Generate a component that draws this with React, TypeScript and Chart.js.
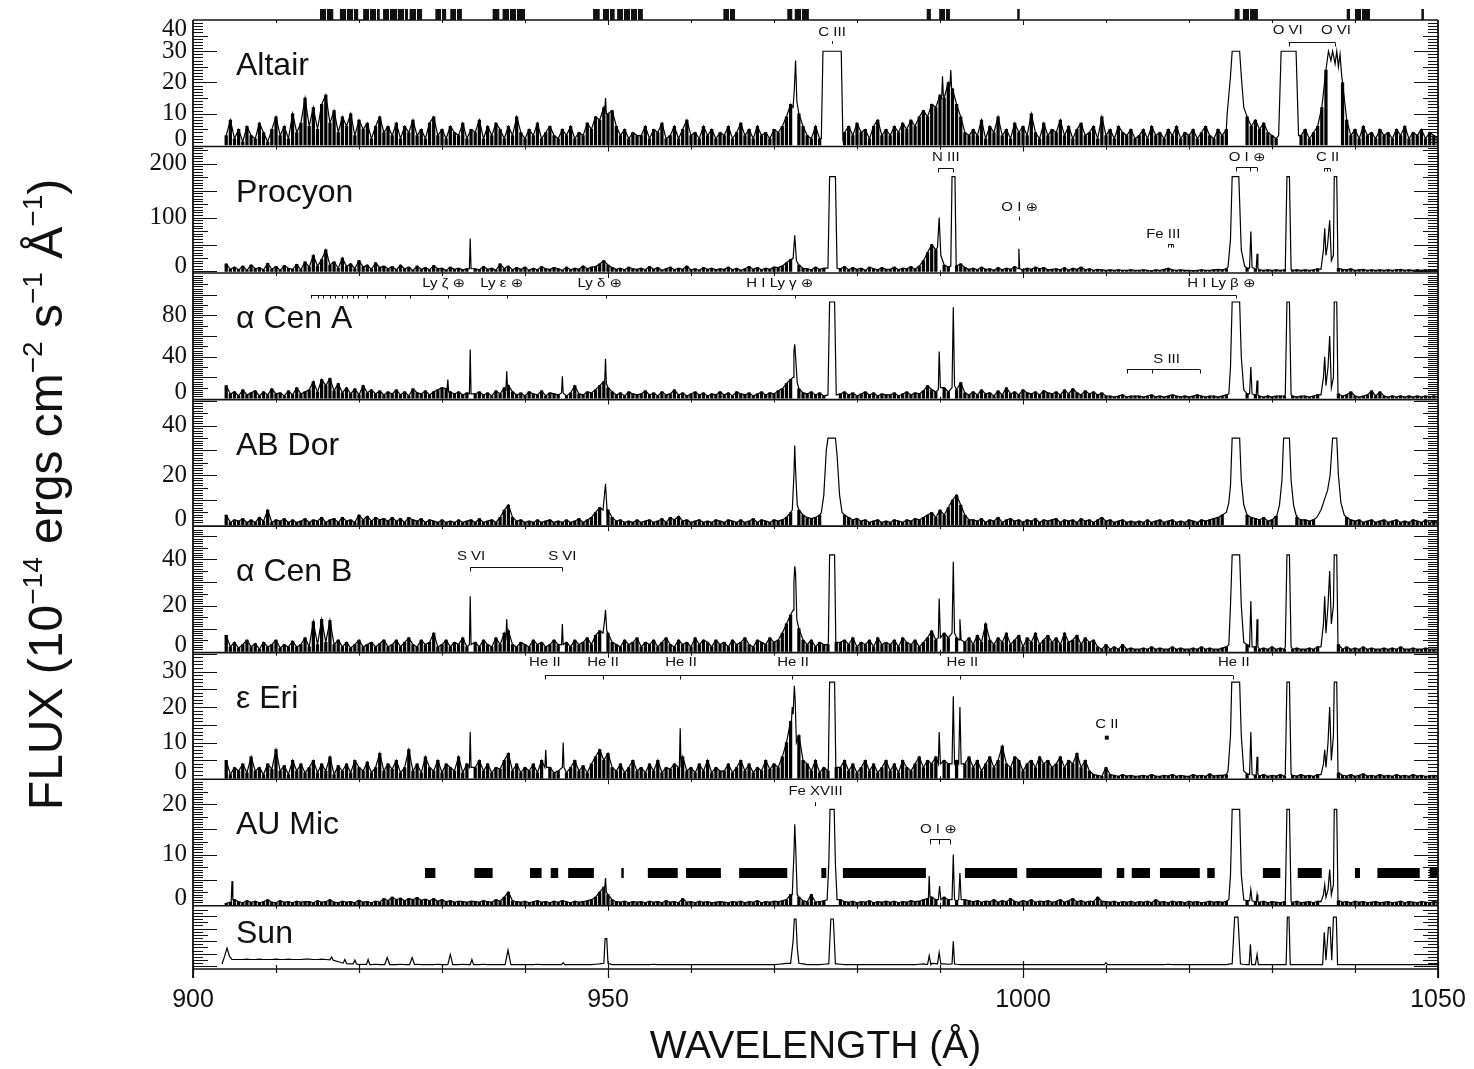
import { useEffect, useRef } from 'react';
import { Chart, registerables } from 'chart.js';

Chart.register(...registerables);

// ---------- wavelength axis ----------
const wavelengthMin = 900;
const wavelengthMax = 1050;
const wavelengthTicks = [900, 950, 1000, 1050];

// Continuum samples: row r starts at gridStart + r*gridRow, samples every gridStep Å.
const gridStart = 904;
const gridRow = 10;
const gridStep = 0.5;

// ---------- Altair ----------
const altairContinuum = [
  [3, 8, 2, 5, 1, 6, 3, 2, 7, 4, 1, 5, 9, 3, 6, 2, 10, 4, 7, 15],
  [6, 12, 5, 13, 16, 7, 11, 4, 9, 6, 10, 3, 8, 5, 7, 2, 6, 9, 4, 6],
  [3, 7, 2, 6, 4, 8, 3, 5, 2, 7, 9, 3, 5, 2, 6, 4, 3, 7, 2, 5],
  [4, 8, 2, 6, 3, 7, 5, 2, 6, 3, 9, 4, 2, 5, 3, 7, 2, 4, 6, 3],
  [2, 5, 3, 6, 2, 4, 3, 7, 5, 9, 8, 12, 10, 11, 6, 3, 5, 2, 4, 3],
  [3, 6, 2, 5, 4, 7, 2, 3, 6, 2, 5, 8, 3, 4, 2, 6, 3, 5, 2, 4],
  [3, 6, 2, 4, 7, 3, 5, 2, 6, 3, 4, 2, 5, 4, 6, 9, 13, 0, 10, 6],
  [3, 2, 6, 2, 0, 0, 0, 0, 0, 4, 6, 3, 7, 4, 5, 2, 6, 8, 3, 5],
  [3, 6, 4, 7, 5, 8, 6, 9, 11, 9, 13, 12, 16, 15, 20, 18, 13, 9, 4, 3],
  [5, 3, 8, 2, 6, 4, 9, 3, 5, 2, 7, 4, 6, 3, 10, 4, 2, 7, 3, 5],
  [4, 8, 3, 6, 2, 5, 7, 3, 4, 6, 2, 9, 3, 5, 2, 6, 4, 3, 5, 2],
  [3, 5, 2, 6, 3, 4, 2, 5, 3, 6, 2, 4, 3, 5, 2, 4, 6, 3, 2, 5],
  [3, 5, 0, 0, 0, 0, 9, 6, 8, 5, 7, 4, 3, 2, 0, 0, 0, 0, 0, 3],
  [5, 2, 4, 6, 12, 24, 0, 0, 0, 20, 8, 3, 5, 2, 6, 3, 4, 2, 5, 3],
  [4, 2, 5, 3, 6, 2, 4, 3, 5, 2, 4, 3, 2],
];
// emission-line profiles as [λ, flux, λ, flux, ...]
const altairLines = [
  [949.6, 10, 949.7, 15, 949.8, 10],
  [972.3, 12, 972.45, 18, 972.6, 27, 972.75, 14],
  [975.7, 2, 975.9, 30, 978.1, 30, 978.3, 2],
  [990.2, 15, 990.3, 22, 990.4, 16],
  [991.2, 19, 991.3, 24, 991.4, 18],
  [1024.6, 10, 1025.0, 22, 1025.2, 30, 1026.1, 30, 1026.3, 22, 1026.6, 12],
  [1030.8, 3, 1031.1, 30, 1032.9, 30, 1033.2, 3],
  [1036.6, 26, 1036.8, 30, 1037.1, 27, 1037.3, 30, 1037.6, 26, 1037.8, 30, 1038.0, 25, 1038.2, 29, 1038.4, 22],
];

// ---------- Procyon ----------
const procyonContinuum = [
  [14, 4, 8, 3, 10, 2, 12, 5, 7, 3, 15, 4, 9, 2, 11, 6, 4, 13, 3, 18],
  [8, 30, 10, 22, 40, 12, 18, 6, 25, 9, 14, 5, 20, 8, 12, 4, 16, 7, 10, 5],
  [9, 3, 12, 5, 8, 2, 10, 4, 7, 3, 11, 5, 6, 2, 8, 4, 6, 3, 5, 4],
  [5, 3, 9, 4, 6, 2, 14, 5, 10, 3, 7, 4, 8, 2, 6, 3, 9, 5, 4, 7],
  [5, 2, 8, 3, 6, 4, 10, 5, 8, 9, 14, 20, 12, 7, 4, 6, 3, 8, 5, 4],
  [6, 3, 9, 4, 7, 2, 5, 8, 3, 6, 4, 10, 3, 5, 2, 7, 4, 6, 3, 5],
  [4, 8, 3, 6, 2, 5, 9, 4, 7, 3, 6, 4, 8, 7, 10, 16, 22, 0, 12, 6],
  [5, 3, 8, 4, 6, 0, 0, 0, 5, 9, 3, 7, 4, 6, 2, 8, 5, 3, 7, 4],
  [4, 8, 3, 6, 5, 9, 4, 10, 20, 35, 50, 40, 0, 12, 8, 0, 10, 14, 7, 4],
  [6, 3, 8, 4, 5, 2, 7, 3, 6, 4, 9, 0, 3, 6, 4, 8, 5, 7, 3, 4],
  [5, 3, 7, 2, 6, 4, 8, 3, 5, 2, 4, 3, 2, 3, 2, 3, 2, 2, 3, 2],
  [2, 3, 2, 1, 3, 2, 4, 6, 3, 2, 3, 2, 2, 1, 2, 3, 2, 2, 3, 4],
  [3, 5, 0, 0, 0, 0, 6, 0, 4, 3, 2, 3, 2, 3, 2, 3, 0, 2, 3, 2],
  [3, 2, 3, 5, 0, 0, 0, 0, 6, 4, 3, 5, 2, 3, 4, 2, 3, 2, 3, 2],
  [3, 2, 3, 4, 2, 3, 2, 3, 2, 3, 2, 3, 2],
];
const procyonLines = [
  [933.3, 5, 933.4, 61, 933.5, 5],
  [972.3, 24, 972.5, 67, 972.7, 20],
  [976.5, 6, 976.7, 176, 977.4, 176, 977.6, 6],
  [989.7, 45, 989.9, 100, 990.1, 30],
  [991.3, 10, 991.45, 176, 991.8, 176, 991.95, 10],
  [999.4, 5, 999.5, 42, 999.6, 5],
  [1024.7, 8, 1025.0, 60, 1025.2, 176, 1026.0, 176, 1026.3, 40, 1026.7, 10],
  [1027.3, 6, 1027.45, 74, 1027.6, 8],
  [1028.1, 5, 1028.2, 33, 1028.3, 5],
  [1031.6, 4, 1031.8, 176, 1032.1, 176, 1032.3, 4],
  [1035.9, 4, 1036.2, 40, 1036.35, 80, 1036.5, 30, 1036.7, 50, 1036.95, 95, 1037.15, 20, 1037.4, 30, 1037.5, 176, 1037.8, 176, 1037.95, 8],
];

// ---------- α Cen A ----------
const alphaCenAContinuum = [
  [12, 4, 6, 2, 8, 3, 5, 7, 2, 6, 3, 9, 4, 5, 2, 7, 3, 10, 4, 6],
  [8, 16, 6, 18, 12, 19, 7, 14, 5, 10, 4, 9, 3, 12, 5, 8, 4, 7, 3, 6],
  [4, 8, 3, 6, 2, 9, 5, 4, 7, 3, 6, 8, 10, 9, 6, 4, 6, 3, 5, 3],
  [4, 6, 3, 5, 2, 7, 4, 10, 12, 6, 3, 5, 2, 6, 4, 3, 7, 2, 5, 4],
  [3, 6, 2, 5, 12, 4, 3, 6, 5, 8, 12, 16, 10, 6, 3, 5, 2, 6, 4, 3],
  [4, 7, 3, 5, 2, 6, 3, 4, 8, 3, 5, 2, 4, 6, 3, 5, 2, 4, 3, 6],
  [3, 5, 2, 6, 4, 3, 5, 2, 4, 6, 3, 5, 4, 7, 9, 14, 18, 0, 9, 5],
  [4, 6, 3, 5, 2, 0, 0, 0, 4, 6, 3, 5, 2, 4, 6, 3, 5, 2, 4, 3],
  [3, 5, 2, 4, 6, 3, 5, 4, 7, 12, 8, 6, 0, 10, 6, 0, 8, 15, 5, 3],
  [6, 3, 8, 4, 5, 2, 7, 3, 10, 4, 6, 3, 8, 5, 4, 6, 3, 7, 5, 4],
  [6, 3, 8, 4, 9, 5, 3, 7, 4, 6, 3, 5, 2, 2, 1, 2, 3, 1, 2, 2],
  [2, 1, 2, 3, 1, 2, 1, 2, 3, 2, 1, 2, 1, 2, 3, 2, 1, 2, 2, 1],
  [2, 3, 0, 0, 0, 0, 4, 0, 3, 2, 1, 2, 1, 2, 2, 2, 0, 2, 1, 2],
  [2, 1, 2, 3, 0, 0, 0, 0, 4, 2, 3, 6, 2, 1, 2, 3, 7, 2, 6, 2],
  [1, 2, 1, 2, 1, 2, 1, 2, 1, 2, 1, 2, 1],
];
const alphaCenALines = [
  [930.6, 8, 930.7, 18, 930.8, 6],
  [933.3, 4, 933.4, 47, 933.5, 4],
  [937.7, 8, 937.8, 26, 937.9, 8],
  [944.4, 5, 944.5, 21, 944.6, 5],
  [949.6, 16, 949.7, 38, 949.8, 14],
  [972.3, 20, 972.4, 45, 972.5, 52, 972.6, 40, 972.8, 15],
  [976.5, 3, 976.7, 93, 977.3, 93, 977.5, 3],
  [989.8, 8, 989.9, 45, 990.05, 10],
  [991.45, 10, 991.6, 88, 991.75, 12],
  [1024.8, 4, 1025.0, 30, 1025.2, 93, 1026.1, 93, 1026.3, 40, 1026.6, 8],
  [1027.3, 4, 1027.45, 30, 1027.6, 4],
  [1028.1, 3, 1028.2, 17, 1028.3, 3],
  [1031.6, 3, 1031.8, 93, 1032.1, 93, 1032.3, 3],
  [1035.9, 3, 1036.2, 20, 1036.35, 40, 1036.5, 12, 1036.75, 30, 1036.95, 60, 1037.15, 10, 1037.4, 20, 1037.5, 93, 1037.8, 93, 1037.95, 5],
];

// ---------- AB Dor ----------
const abDorContinuum = [
  [4, 1, 2, 1.5, 2.5, 1, 2, 1, 3, 1.5, 6, 1, 2, 1.5, 2.5, 1, 2, 1, 1.5, 2.5],
  [1, 2, 1.5, 3, 1, 2, 2.5, 1, 3, 1.5, 2, 1, 4, 2, 3.5, 1.5, 3, 2, 2.5, 1.5],
  [3, 1.5, 2.5, 1, 3, 2, 1.5, 2.5, 1, 2, 1.5, 1, 2, 1, 1.5, 1, 2, 1, 1.5, 2],
  [1, 2.5, 1, 1.5, 2, 1, 3, 6, 8, 3, 1.5, 2, 1, 1.5, 1, 2, 1, 1.5, 2, 1],
  [1.5, 1, 2, 1, 1.5, 2.5, 1, 2, 3, 5, 7, 0, 6, 3, 1.5, 2, 1, 1.5, 1, 2],
  [1, 1.5, 2, 1, 1.5, 2.5, 1, 3, 2, 3.5, 1.5, 2, 1, 1.5, 2, 1, 1.5, 1, 2, 1.5],
  [1, 2, 1.5, 1, 2, 1, 1.5, 2.5, 1, 2, 1.5, 1, 2, 1.5, 2, 3, 5, 0, 6, 4],
  [3, 2.5, 3, 4, 0, 0, 0, 0, 0, 4, 3, 2, 2.5, 1.5, 2, 1, 1.5, 2, 1, 1.5],
  [1, 2, 1.5, 1, 2, 1.5, 2.5, 2, 3, 4, 5, 3, 6, 4, 7, 10, 12, 8, 4, 2],
  [2, 1.5, 2.5, 1, 2, 1.5, 3, 1, 2, 2.5, 1.5, 2, 1, 2, 1.5, 2.5, 1, 2, 1.5, 2],
  [2.5, 1, 2, 1.5, 2, 1, 2.5, 1.5, 2, 1, 2, 3, 1.5, 2, 1, 1.5, 2, 1, 1.5, 1],
  [1.5, 1, 2, 1, 1.5, 2, 1, 1.5, 2, 1, 1.5, 1, 2, 1.5, 1, 2, 1.5, 2, 2.5, 3],
  [4, 0, 0, 0, 0, 0, 4, 3, 2.5, 2, 3, 1.5, 2, 3.5, 0, 0, 0, 0, 3, 2],
  [2, 1.5, 2, 0, 0, 0, 0, 0, 0, 0, 3, 2, 1.5, 2, 1, 1.5, 2, 1, 1.5, 2],
  [1, 1.5, 2, 1, 1.5, 1, 2, 1.5, 1, 2, 1, 1.5, 1],
];
const abDorLines = [
  [949.4, 6, 949.7, 16.6, 949.9, 5],
  [972.2, 6, 972.4, 20, 972.5, 32, 972.6, 22, 972.8, 8],
  [975.7, 5, 976.0, 12, 976.3, 30, 976.5, 35, 977.4, 35, 977.6, 28, 977.9, 12, 978.2, 5],
  [1024.5, 5, 1024.8, 9, 1025.0, 16, 1025.2, 35, 1026.1, 35, 1026.3, 18, 1026.6, 8, 1026.9, 5],
  [1030.6, 4, 1030.9, 8, 1031.2, 18, 1031.4, 35, 1032.1, 35, 1032.3, 18, 1032.6, 8, 1032.9, 4],
  [1035.4, 3, 1035.9, 6, 1036.3, 10, 1036.7, 14, 1037.0, 20, 1037.3, 35, 1037.8, 35, 1038.0, 20, 1038.3, 9, 1038.7, 4],
];

// ---------- α Cen B ----------
const alphaCenBContinuum = [
  [7, 2, 4, 1.5, 3, 5, 2, 3.5, 1, 4, 2, 3, 5, 1.5, 3, 2, 4.5, 2, 3, 6],
  [2, 13, 3, 14, 4, 13.5, 3, 5, 2, 4, 1.5, 3, 5, 2, 3, 4, 2, 3.5, 5, 2],
  [3, 5, 2, 4, 6, 3, 2, 5, 3, 4, 8, 2, 3, 5, 2, 4, 3, 6, 2, 3],
  [4, 2, 5, 3, 2, 6, 3, 8, 9, 3, 2, 4, 3, 2, 5, 3, 4, 2, 3, 5],
  [3, 0, 4, 2, 5, 3, 4, 6, 3, 7, 9, 0, 8, 4, 3, 2, 5, 3, 4, 6],
  [2, 4, 3, 5, 2, 4, 6, 3, 2, 5, 3, 4, 2, 6, 3, 5, 4, 2, 5, 3],
  [4, 2, 5, 3, 4, 6, 3, 2, 5, 4, 3, 6, 4, 5, 8, 12, 16, 0, 10, 5],
  [3, 5, 2, 4, 3, 3, 0, 4, 4, 5, 3, 6, 2, 4, 3, 5, 2, 6, 3, 4],
  [3, 5, 2, 6, 4, 3, 5, 2, 4, 6, 9, 5, 0, 8, 6, 0, 6, 0, 4, 6],
  [3, 7, 4, 12, 5, 3, 6, 4, 8, 3, 5, 7, 2, 6, 4, 8, 3, 5, 7, 4],
  [6, 3, 8, 4, 5, 7, 3, 6, 4, 5, 2, 1, 3, 1, 2, 1, 3, 1, 1.5, 1],
  [1, 1.5, 1, 2, 1, 1.5, 1, 1, 2, 1, 1.5, 1, 1, 1.5, 1, 2, 1, 1.5, 1, 1],
  [1.5, 2, 0, 0, 0, 0, 3, 0, 2, 1, 1.5, 1, 2, 1, 1.5, 1, 0, 1, 1.5, 1],
  [1, 1.5, 1, 2, 0, 0, 0, 0, 3, 1, 2, 1, 1.5, 1, 2, 1, 1.5, 1, 1, 1.5],
  [1, 1.5, 1, 2, 1, 1, 1.5, 1, 1, 1.5, 1, 1, 1],
];
const alphaCenBLines = [
  [933.3, 3, 933.4, 24, 933.5, 3],
  [937.7, 6, 937.8, 14, 937.9, 5],
  [944.4, 3, 944.5, 12, 944.6, 3],
  [949.4, 8, 949.6, 14, 949.7, 18, 949.85, 9],
  [972.3, 18, 972.4, 30, 972.5, 37, 972.6, 34, 972.75, 14],
  [976.55, 4, 976.7, 42, 977.3, 42, 977.45, 4],
  [989.8, 6, 989.9, 23, 990.05, 6],
  [991.45, 8, 991.6, 39, 991.75, 8],
  [992.3, 5, 992.4, 14, 992.55, 5],
  [1024.8, 3, 1025.0, 20, 1025.2, 42, 1026.1, 42, 1026.3, 20, 1026.6, 4],
  [1027.3, 2, 1027.45, 22, 1027.6, 2],
  [1028.1, 2, 1028.2, 14, 1028.3, 2],
  [1031.6, 2, 1031.8, 42, 1032.1, 42, 1032.3, 2],
  [1035.9, 2, 1036.2, 12, 1036.35, 24, 1036.5, 8, 1036.75, 20, 1036.95, 35, 1037.15, 12, 1037.4, 20, 1037.5, 42, 1037.8, 42, 1037.95, 3],
];

// ---------- ε Eri ----------
const epsEriContinuum = [
  [5, 1, 3, 2, 4, 1.5, 6, 2, 3, 1, 4, 2.5, 8, 2, 3.5, 1, 5, 2, 4, 1.5],
  [3, 5, 1.5, 4, 2, 6, 1, 3.5, 2, 4, 1.5, 5, 3, 2, 4.5, 1.5, 3, 7, 2, 4],
  [2.5, 5, 1.5, 3, 8, 2, 4, 1.5, 6, 3, 2, 5, 1.5, 4, 3, 2, 6, 1.5, 4, 2],
  [3, 5, 2, 4, 1.5, 3, 2.5, 5, 7, 2, 4, 1.5, 3, 2, 4, 1.5, 5, 2, 3, 1.5],
  [2, 4, 1.5, 3, 5, 2, 3.5, 1.5, 4, 6, 8, 5, 7, 3, 2, 4, 1.5, 3, 5, 2],
  [3, 1.5, 4, 2, 5, 1.5, 3, 2.5, 4, 3, 6, 2, 3, 1.5, 4, 2, 5, 1.5, 3, 2],
  [2, 4, 1.5, 3, 5, 2, 4, 1.5, 3, 2, 5, 2.5, 4, 3, 6, 10, 16, 0, 12, 5],
  [4, 2, 5, 1.5, 3, 2, 0, 3, 3, 5, 2, 4, 1.5, 3, 5, 2, 4, 1.5, 3, 5],
  [2, 4, 1.5, 5, 3, 2, 4, 6, 3, 5, 4, 6, 0, 5, 4, 0, 5, 0, 4, 6],
  [3, 5, 2, 4, 6, 3, 5, 9, 4, 3, 6, 5, 2, 4, 5, 3, 6, 4, 5, 3],
  [4, 6, 3, 5, 4, 7, 3, 5, 2, 1, 0.8, 0.5, 3, 1, 0.8, 0.5, 1, 0.6, 0.8, 0.5],
  [0.6, 0.8, 0.5, 1, 0.6, 0.5, 0.8, 0.6, 1, 0.5, 0.8, 0.6, 0.5, 1, 0.6, 0.8, 0.5, 1.2, 0.6, 0.8],
  [0.8, 1, 0, 0, 0, 0, 1.2, 0, 0.8, 0.6, 1, 0.5, 0.8, 0.6, 1, 0.5, 0, 0.8, 0.6, 1],
  [0.6, 0.8, 0.5, 1, 0, 0, 0, 0, 1.5, 0.8, 0.6, 1, 0.5, 0.8, 1.2, 0.6, 0.8, 0.5, 1, 0.6],
  [0.8, 0.5, 1, 0.6, 0.8, 0.5, 1, 0.6, 0.8, 0.5, 0.6, 0.8, 0.5],
];
const epsEriLines = [
  [933.3, 3, 933.4, 13, 933.5, 3],
  [942.4, 3, 942.5, 8, 942.6, 3],
  [944.5, 3, 944.6, 10, 944.7, 3],
  [958.6, 3, 958.7, 14, 958.8, 3],
  [972.1, 16, 972.2, 20, 972.3, 18, 972.45, 26, 972.55, 22, 972.7, 10],
  [976.55, 3, 976.7, 27, 977.3, 27, 977.45, 3],
  [989.8, 4, 989.9, 13, 990.05, 4],
  [991.45, 4, 991.6, 23, 991.75, 4],
  [992.25, 4, 992.4, 20, 992.55, 4],
  [1024.7, 2, 1025.0, 12, 1025.15, 27, 1026.1, 27, 1026.3, 12, 1026.6, 2],
  [1027.3, 1, 1027.45, 13, 1027.6, 1],
  [1028.1, 1, 1028.2, 6, 1028.3, 1],
  [1031.6, 1, 1031.8, 27, 1032.1, 27, 1032.3, 1],
  [1035.9, 1, 1036.2, 4, 1036.35, 8, 1036.5, 3, 1036.75, 10, 1036.95, 20, 1037.15, 5, 1037.4, 12, 1037.5, 27, 1037.8, 27, 1037.95, 2],
];

// ---------- AU Mic ----------
const auMicContinuum = [
  [0.3, 0.5, 1, 0.6, 0.4, 0.8, 0.5, 0.7, 0.4, 0.6, 1, 0.5, 0.4, 0.8, 0.5, 0.6, 0.4, 0.7, 0.5, 0.6],
  [0.6, 0.4, 0.8, 0.5, 0.6, 1, 0.5, 0.4, 0.7, 0.5, 0.6, 0.4, 0.9, 0.5, 0.6, 0.4, 0.7, 0.5, 1.2, 0.8],
  [1.5, 1, 1.3, 0.8, 1.2, 1, 1.4, 0.9, 1.1, 0.8, 1.2, 0.7, 1, 0.6, 0.8, 0.5, 0.7, 0.6, 0.5, 0.7],
  [0.6, 0.5, 0.8, 0.6, 0.5, 1, 0.7, 1.5, 2.5, 0.8, 0.6, 0.5, 0.7, 0.4, 0.6, 0.8, 0.5, 0.6, 0.4, 0.7],
  [0.5, 0.8, 0.6, 0.4, 0.7, 0.5, 0.6, 0.8, 1, 1.5, 2.5, 3.5, 2, 1, 0.6, 0.5, 0.7, 0.4, 0.6, 0.5],
  [0.6, 0.4, 0.7, 0.5, 0.6, 0.4, 0.8, 0.5, 0.6, 0.4, 1.2, 0.5, 0.6, 0.4, 0.7, 0.5, 0.6, 0.4, 0.5, 0.6],
  [0.5, 0.4, 0.6, 0.5, 0.7, 0.4, 0.6, 0.5, 0.8, 0.4, 0.6, 0.5, 0.7, 0.6, 0.8, 1, 2, 0, 1.5, 0.8],
  [0.6, 2, 0.5, 0.6, 0.8, 0, 0, 0, 1, 0.6, 0.5, 0.7, 0.4, 0.6, 0.5, 0.8, 0.4, 0.6, 0.5, 0.7],
  [0.5, 0.7, 0.4, 0.6, 0.5, 0.8, 0.6, 0.7, 1, 1.2, 1.5, 1, 0, 1.5, 1, 0, 0.8, 0, 1, 0.8],
  [0.6, 0.8, 0.5, 0.7, 0.6, 1, 0.5, 0.8, 0.6, 1.2, 0.7, 0.5, 0.8, 0.6, 1, 0.5, 0.7, 0.6, 0.8, 0.5],
  [0.7, 1, 0.5, 0.8, 1.2, 0.6, 0.8, 0.5, 0.7, 0.6, 1.5, 0.7, 0.6, 0.5, 0.7, 0.4, 0.6, 0.5, 0.7, 0.4],
  [0.6, 0.5, 0.7, 0.4, 1, 0.5, 0.6, 0.4, 0.7, 0.5, 0.6, 0.4, 0.7, 0.5, 0.6, 0.4, 0.5, 0.7, 0.5, 0.6],
  [0.5, 0.7, 0, 0, 0, 0, 0.8, 0, 0.6, 0.5, 0.7, 0.4, 0.6, 0.5, 0.4, 0.6, 0, 0.5, 0.7, 0.4],
  [0.5, 0.6, 0.4, 0.7, 0, 0, 0, 0, 0.8, 0.5, 0.6, 0.4, 0.7, 0.5, 0.6, 0.4, 0.5, 0.6, 0.4, 0.5],
  [0.6, 0.4, 0.5, 0.7, 0.4, 0.6, 0.5, 0.4, 0.6, 0.5, 0.4, 0.6, 0.5],
];
const auMicLines = [
  [904.6, 0.5, 904.7, 4.7, 904.8, 1],
  [949.6, 3, 949.7, 5.3, 949.8, 2.5],
  [972.2, 2, 972.4, 10, 972.5, 16, 972.6, 12, 972.8, 2],
  [976.4, 1, 976.6, 8, 976.75, 19, 977.25, 19, 977.4, 8, 977.6, 1],
  [988.6, 1.2, 988.7, 5.7, 988.8, 1.5],
  [989.8, 1, 989.95, 3.7, 990.1, 1],
  [991.45, 1, 991.6, 10, 991.75, 1],
  [992.25, 1, 992.4, 6.3, 992.55, 1],
  [1024.8, 1, 1025.0, 6, 1025.2, 19, 1026.1, 19, 1026.3, 6, 1026.6, 1],
  [1027.3, 0.8, 1027.45, 3, 1027.6, 0.8],
  [1028.1, 0.6, 1028.2, 2, 1028.3, 0.6],
  [1031.6, 0.6, 1031.8, 19, 1032.1, 19, 1032.3, 0.6],
  [1035.9, 0.6, 1036.2, 2, 1036.35, 4, 1036.5, 1.5, 1036.75, 3, 1036.95, 7, 1037.15, 2, 1037.4, 4, 1037.5, 19, 1037.8, 19, 1037.95, 0.8],
];
// wavelength intervals marked by the thick bars in the AU Mic panel
const auMicBarLevel = 6.3;
const auMicBarRanges = [
  [927.95, 929.2], [933.9, 936.1], [940.6, 942.0], [943.1, 944.0], [945.2, 948.3],
  [951.6, 951.9], [954.8, 958.4], [959.4, 963.6], [965.8, 971.6], [975.7, 976.3],
  [978.3, 988.3], [993.0, 999.3], [1000.4, 1009.5], [1011.3, 1012.2], [1013.1, 1015.3],
  [1016.5, 1021.3], [1022.2, 1023.1], [1028.9, 1031.0], [1033.1, 1036.0], [1040.0, 1040.6],
  [1042.7, 1047.8], [1049.0, 1050.0],
];

// ---------- Sun ----------
const sunContinuum = [
  [0, 0, 1.1, 1.1, 1.1, 1.15, 1.1, 1.1, 1.15, 1.1, 1.1, 1.1, 1.15, 1.1, 1.1, 1.15, 1.1, 1.1, 1.1, 1.15],
  [1.15, 1.1, 1.1, 1.15, 1.1, 1.05, 0.95, 0.75, 0.55, 0.45, 0.4, 0.35, 0.3, 0.35, 0.3, 0.3, 0.35, 0.3, 0.3, 0.3],
  [0.3, 0.3, 0.35, 0.3, 0.3, 0.3, 0.35, 0.3, 0.3, 0.3, 0.3, 0.35, 0.3, 0.3, 0.3, 0.3, 0.3, 0.35, 0.3, 0.3],
  [0.3, 0.3, 0.35, 0.3, 0.3, 0.3, 0.3, 0.3, 0.3, 0.3, 0.3, 0.3, 0.3, 0.3, 0.3, 0.35, 0.3, 0.3, 0.3, 0.3],
  [0.3, 0.3, 0.3, 0.3, 0.3, 0.3, 0.3, 0.3, 0.3, 0.35, 0.4, 0.5, 0.4, 0.3, 0.3, 0.3, 0.3, 0.3, 0.3, 0.3],
  [0.3, 0.3, 0.3, 0.35, 0.3, 0.3, 0.3, 0.3, 0.3, 0.3, 0.3, 0.3, 0.3, 0.3, 0.3, 0.3, 0.3, 0.3, 0.3, 0.3],
  [0.3, 0.3, 0.3, 0.3, 0.3, 0.3, 0.3, 0.3, 0.3, 0.3, 0.3, 0.3, 0.3, 0.35, 0.4, 0.5, 0.6, 0, 0.6, 0.4],
  [0.3, 0.3, 0.3, 0.3, 0.35, 0.4, 0, 0.4, 0.35, 0.3, 0.3, 0.3, 0.3, 0.3, 0.3, 0.3, 0.3, 0.3, 0.3, 0.3],
  [0.3, 0.3, 0.3, 0.3, 0.3, 0.3, 0.3, 0.35, 0.4, 0.4, 0.5, 0.45, 0.4, 0.4, 0.35, 0.4, 0.35, 0.3, 0.3, 0.3],
  [0.3, 0.3, 0.3, 0.3, 0.3, 0.3, 0.3, 0.3, 0.3, 0.3, 0.3, 0.3, 0.3, 0.3, 0.3, 0.3, 0.3, 0.3, 0.3, 0.3],
  [0.3, 0.3, 0.3, 0.3, 0.3, 0.3, 0.3, 0.3, 0.3, 0.3, 0.3, 0.3, 0.3, 0.3, 0.3, 0.3, 0.3, 0.3, 0.3, 0.3],
  [0.3, 0.3, 0.3, 0.3, 0.3, 0.3, 0.3, 0.35, 0.3, 0.3, 0.3, 0.3, 0.3, 0.3, 0.3, 0.3, 0.3, 0.3, 0.3, 0.3],
  [0.3, 0.3, 0.4, 0, 0, 0.35, 0.3, 0, 0.3, 0.3, 0.3, 0.3, 0.3, 0.3, 0.3, 0.3, 0, 0.3, 0.3, 0.3],
  [0.3, 0.3, 0.3, 0.3, 0.3, 0, 0, 0, 0.3, 0.3, 0.3, 0.3, 0.3, 0.3, 0.3, 0.3, 0.3, 0.3, 0.3, 0.3],
  [0.3, 0.3, 0.3, 0.3, 0.3, 0.3, 0.3, 0.3, 0.3, 0.3, 0.3, 0.3, 0.3],
];
const sunLines = [
  [903.5, 0.4, 903.8, 1.6, 904.1, 2.9, 904.4, 1.6, 904.7, 1.1],
  [916.5, 1.05, 916.7, 1.5, 916.9, 0.95],
  [918.1, 0.55, 918.3, 1.1, 918.5, 0.45],
  [919.3, 0.4, 919.5, 1.0, 919.7, 0.38],
  [920.9, 0.32, 921.1, 1.1, 921.3, 0.3],
  [923.1, 0.3, 923.4, 1.4, 923.7, 0.3],
  [926.1, 0.3, 926.4, 1.4, 926.7, 0.3],
  [930.7, 0.3, 931.0, 1.9, 931.3, 0.3],
  [933.4, 0.3, 933.6, 1.1, 933.8, 0.3],
  [937.6, 0.3, 937.95, 2.6, 938.3, 0.3],
  [944.4, 0.3, 944.6, 0.6, 944.8, 0.3],
  [949.5, 0.5, 949.65, 4.4, 949.85, 4.4, 950.0, 0.5],
  [972.0, 0.5, 972.3, 4, 972.45, 7.5, 972.65, 7.5, 972.8, 3, 973.0, 0.5],
  [976.6, 0.4, 976.85, 7.5, 977.15, 7.5, 977.4, 0.4],
  [988.5, 0.3, 988.7, 1.7, 988.9, 0.3],
  [989.7, 0.4, 989.9, 2.2, 990.1, 0.4],
  [991.45, 0.4, 991.6, 4, 991.75, 0.4],
  [1009.8, 0.3, 1010.0, 0.6, 1010.2, 0.3],
  [1025.2, 0.4, 1025.5, 7.8, 1025.9, 7.8, 1026.2, 0.4],
  [1027.25, 0.3, 1027.4, 3.5, 1027.55, 0.3],
  [1028.05, 0.3, 1028.2, 1.9, 1028.35, 0.3],
  [1031.7, 0.3, 1031.85, 7.8, 1032.05, 7.8, 1032.2, 0.3],
  [1036.1, 0.3, 1036.3, 5.4, 1036.5, 1, 1036.8, 6.2, 1037.0, 6.2, 1037.2, 1, 1037.4, 7.8, 1037.75, 7.8, 1037.9, 0.3],
];

// ---------- panel set-up ----------
const panels = [
  { id: 'yAltair', name: 'Altair', cont: altairContinuum, lines: altairLines, min: -0.5, max: 40, weight: 2, labels: [0, 10, 20, 30, 40], minor: 1, major: 10, nameDy: 55, hatch: true },
  { id: 'yProcyon', name: 'Procyon', cont: procyonContinuum, lines: procyonLines, min: -3, max: 232, weight: 2, labels: [0, 100, 200], minor: 5, major: 50, nameDy: 55, hatch: true },
  { id: 'yAlphaCenA', name: 'α Cen A', cont: alphaCenAContinuum, lines: alphaCenALines, min: -1.5, max: 121, weight: 2, labels: [0, 40, 80], minor: 2, major: 20, nameDy: 55, hatch: true },
  { id: 'yAbDor', name: 'AB Dor', cont: abDorContinuum, lines: abDorLines, min: -0.5, max: 50.5, weight: 2, labels: [0, 20, 40], minor: 1, major: 10, nameDy: 55, hatch: true },
  { id: 'yAlphaCenB', name: 'α Cen B', cont: alphaCenBContinuum, lines: alphaCenBLines, min: -0.5, max: 54.5, weight: 2, labels: [0, 20, 40], minor: 1, major: 10, nameDy: 55, hatch: true },
  { id: 'yEpsEri', name: 'ε Eri', cont: epsEriContinuum, lines: epsEriLines, min: -0.3, max: 35.3, weight: 2, labels: [0, 10, 20, 30], minor: 1, major: 5, nameDy: 55, hatch: true },
  { id: 'yAuMic', name: 'AU Mic', cont: auMicContinuum, lines: auMicLines, min: -0.2, max: 25, weight: 2, labels: [0, 10, 20], minor: 0.5, major: 5, nameDy: 55, hatch: true },
  { id: 'ySun', name: 'Sun', cont: sunContinuum, lines: sunLines, min: -0.4, max: 9.6, weight: 1, labels: [], minor: 0.5, major: 2, nameDy: 37, hatch: false },
];

// marks drawn in the strip above the top panel
const topMarkRanges = [
  [915.3, 916.9], [917.7, 919.9], [920.5, 922.5], [922.9, 924.6], [924.7, 925.9], [926.1, 927.6],
  [929.2, 930.5], [931.0, 932.4], [936.1, 936.9], [937.3, 940.0], [948.2, 949.0], [949.4, 950.8],
  [951.1, 954.2], [963.9, 965.3], [971.6, 972.2], [972.5, 974.2], [988.4, 988.9], [989.9, 991.2],
  [999.3, 999.6], [1025.5, 1026.1], [1026.5, 1028.3], [1039.0, 1039.4], [1040.0, 1041.8], [1048.0, 1048.3],
];

// line identifications: [panel, λ, px below panel top, text]
const lineLabels: [number, number, number, string][] = [
  [0, 977.0, 13, 'C III'],
  [0, 1031.9, 11, 'O VI'],
  [0, 1037.7, 11, 'O VI'],
  [1, 990.7, 11, 'N III'],
  [1, 999.6, 61, 'O I ⊕'],
  [1, 1016.9, 88, 'Fe III'],
  [1, 1027.0, 11, 'O I ⊕'],
  [1, 1036.7, 11, 'C II'],
  [2, 930.2, 11, 'Ly ζ ⊕'],
  [2, 937.2, 11, 'Ly ε ⊕'],
  [2, 949.0, 11, 'Ly δ ⊕'],
  [2, 970.7, 11, 'H I Ly γ ⊕'],
  [2, 1023.9, 11, 'H I Ly β ⊕'],
  [2, 1017.3, 87, 'S III'],
  [4, 933.5, 31, 'S VI'],
  [4, 944.5, 31, 'S VI'],
  [5, 942.4, 10, 'He II'],
  [5, 949.4, 10, 'He II'],
  [5, 958.8, 10, 'He II'],
  [5, 972.3, 10, 'He II'],
  [5, 992.7, 10, 'He II'],
  [5, 1025.4, 10, 'He II'],
  [5, 1010.1, 72, 'C II'],
  [6, 975.0, 12, 'Fe XVIII'],
  [6, 989.8, 50, 'O I ⊕'],
];
// brackets joining members of a multiplet / series
const bracketMarks = [
  { panel: 0, from: 1032.0, to: 1037.6, dy: 22, drop: 4, ticks: [] as number[] },
  { panel: 1, from: 989.8, to: 991.6, dy: 21, drop: 4, ticks: [] },
  { panel: 1, from: 1025.7, to: 1028.2, dy: 20, drop: 4, ticks: [1027.4] },
  { panel: 1, from: 1036.3, to: 1037.0, dy: 21, drop: 3, ticks: [1036.65] },
  { panel: 1, from: 1017.5, to: 1018.1, dy: 97, drop: 3, ticks: [1017.8] },
  { panel: 2, from: 914.2, to: 1025.7, dy: 22, drop: 3, ticks: [915.1, 915.7, 916.5, 917.1, 918.0, 918.6, 919.3, 919.9, 921.0, 923.1, 926.2, 930.7, 937.8, 949.7, 972.5] },
  { panel: 2, from: 1012.5, to: 1021.3, dy: 96, drop: 4, ticks: [1015.5] },
  { panel: 4, from: 933.4, to: 944.5, dy: 41, drop: 4, ticks: [] },
  { panel: 5, from: 942.4, to: 1025.3, dy: 22, drop: 4, ticks: [949.4, 958.7, 972.2, 992.4] },
  { panel: 6, from: 988.8, to: 991.2, dy: 60, drop: 5, ticks: [989.9] },
];
const singleTicks: [number, number, number, number][] = [
  [0, 977.0, 21, 3],
  [1, 999.5, 70, 4],
  [6, 974.9, 23, 4],
];
const dotMarks: [number, number, number][] = [[5, 1010.1, 85]];

const fluxTitle: [string, boolean][] = [
  ['FLUX (10', false], ['−14', true], [' ergs cm', false], ['−2', true],
  [' s', false], ['−1', true], [' Å', false], ['−1', true], [')', false],
];

const INK = '#111';
const SANS = "'Liberation Sans', Arial, Helvetica, 'DejaVu Sans', sans-serif";
const SERIF = "'Liberation Serif', 'Times New Roman', serif";

function inSpan(x: number, lines: number[][]) {
  return lines.some((l) => x >= l[0] - 1e-9 && x <= l[l.length - 2] + 1e-9);
}

function continuumPoints(rows: number[][], lines: number[][]) {
  const pts: { x: number; y: number }[] = [];
  rows.forEach((row, r) =>
    row.forEach((v, k) => {
      const x = gridStart + r * gridRow + k * gridStep;
      if (!inSpan(x, lines)) pts.push({ x, y: v });
    })
  );
  return pts;
}

function buildSeries(rows: number[][], lines: number[][]) {
  const pts = continuumPoints(rows, lines);
  lines.forEach((l) => {
    for (let i = 0; i < l.length; i += 2) pts.push({ x: l[i], y: l[i + 1] });
  });
  pts.sort((p, q) => p.x - q.x);
  return pts;
}

const framePlugin = {
  id: 'spectrumFrames',
  afterDraw(chart: any) {
    const { ctx, chartArea: area, scales } = chart;
    const xs = scales.x;
    const X = (w: number) => xs.getPixelForValue(w);
    const seg = (x1: number, y1: number, x2: number, y2: number) => {
      ctx.beginPath();
      ctx.moveTo(x1, y1);
      ctx.lineTo(x2, y2);
      ctx.stroke();
    };
    ctx.save();
    ctx.strokeStyle = INK;
    ctx.fillStyle = INK;
    ctx.lineCap = 'butt';

    panels.forEach((p, i) => {
      const ys = scales[p.id];
      const top = ys.top;
      const bottom = ys.bottom;
      ctx.lineWidth = 1.6;
      seg(area.left, top, area.right, top);

      // wavelength ticks on the panel's upper edge
      ctx.lineWidth = 1;
      for (let w = 910; w < wavelengthMax; w += 10) {
        const x = Math.round(X(w)) + 0.5;
        const big = w % 50 === 0;
        const up = i === 0 ? 0 : big ? 5 : 3;
        seg(x, top - up, x, top + (big ? 5 : 3));
      }

      // flux ticks, inward on both sides
      const perMajor = Math.round(p.major / p.minor);
      const half = perMajor % 2 === 0 ? perMajor / 2 : 0;
      for (let k = 0; k * p.minor <= p.max; k++) {
        const y = Math.round(ys.getPixelForValue(k * p.minor)) + 0.5;
        if (y > bottom - 1.5 || y < top + 1.5) continue;
        const len = k % perMajor === 0 ? 24 : half && k % half === 0 ? 15 : 10;
        seg(area.left, y, area.left + len, y);
        seg(area.right - len, y, area.right, y);
      }

      // flux tick labels
      ctx.font = `25px ${SERIF}`;
      ctx.textAlign = 'right';
      ctx.textBaseline = 'middle';
      p.labels.forEach((v) => {
        const y = Math.min(Math.max(ys.getPixelForValue(v), top + 9), bottom - 7);
        ctx.fillText(String(v), area.left - 6, y);
      });

      // star name
      ctx.font = `32px ${SANS}`;
      ctx.textAlign = 'left';
      ctx.textBaseline = 'alphabetic';
      ctx.fillText(p.name, area.left + 43, top + p.nameDy);
    });

    // bottom edge and its wavelength ticks
    ctx.lineWidth = 1.6;
    seg(area.left, area.bottom, area.right, area.bottom);
    ctx.lineWidth = 1.2;
    for (let w = wavelengthMin; w <= wavelengthMax; w += 10) {
      const x = Math.round(X(w)) + 0.5;
      const big = w % 50 === 0;
      seg(x, area.bottom - (big ? 8 : 4), x, area.bottom + (big ? 9 : 4));
    }
    ctx.lineWidth = 1.8;
    seg(area.left, area.top, area.left, area.bottom + 9);
    seg(area.right, area.top, area.right, area.bottom + 9);

    // marks in the strip above the plot
    topMarkRanges.forEach(([a, b]) => {
      const x0 = X(a);
      const x1 = Math.max(X(b), x0 + 2.5);
      ctx.fillStyle = INK;
      ctx.fillRect(x0, 9, x1 - x0, 11);
      ctx.fillStyle = '#fff';
      for (let x = x0 + 6; x < x1 - 3; x += 7) ctx.fillRect(Math.round(x), 9, 1, 11);
    });
    ctx.fillStyle = INK;

    // line identifications
    ctx.textAlign = 'center';
    ctx.textBaseline = 'middle';
    ctx.font = `12px ${SANS}`;
    lineLabels.forEach(([pi, w, dy, text]) => {
      const top = scales[panels[pi].id].top;
      ctx.save();
      ctx.translate(X(w), top + dy);
      ctx.scale(1.25, 1);
      ctx.fillText(text, 0, 0);
      ctx.restore();
    });
    ctx.lineWidth = 1;
    bracketMarks.forEach((m) => {
      const y = Math.round(scales[panels[m.panel].id].top + m.dy) + 0.5;
      seg(X(m.from), y, X(m.to), y);
      [m.from, m.to, ...m.ticks].forEach((w) => seg(Math.round(X(w)) + 0.5, y, Math.round(X(w)) + 0.5, y + m.drop));
    });
    singleTicks.forEach(([pi, w, dy, len]) => {
      const y = scales[panels[pi].id].top + dy;
      const x = Math.round(X(w)) + 0.5;
      seg(x, y, x, y + len);
    });
    dotMarks.forEach(([pi, w, dy]) => {
      const y = scales[panels[pi].id].top + dy;
      ctx.fillRect(X(w) - 2, y - 2, 4, 4);
    });

    // vertical axis title with superscripts
    const size = 48;
    const supSize = 28;
    const parts = fluxTitle.map(([t, sup]) => {
      ctx.font = `${sup ? supSize : size}px ${SANS}`;
      return { t, sup, w: ctx.measureText(t).width };
    });
    const total = parts.reduce((s, q) => s + q.w, 0);
    ctx.save();
    ctx.translate(45, (area.top + area.bottom) / 2);
    ctx.rotate(-Math.PI / 2);
    ctx.textAlign = 'left';
    ctx.textBaseline = 'alphabetic';
    let cx = -total / 2;
    parts.forEach((q) => {
      ctx.font = `${q.sup ? supSize : size}px ${SANS}`;
      ctx.fillText(q.t, cx, q.sup ? size * 0.36 - size * 0.42 : size * 0.36);
      cx += q.w;
    });
    ctx.restore();

    ctx.restore();
  },
};

export default function App() {
  const canvasRef = useRef<HTMLCanvasElement>(null);

  useEffect(() => {
    const canvas = canvasRef.current;
    if (!canvas) return;

    const datasets: any[] = [];
    panels.forEach((p) => {
      // each continuum sample as a thin spike from zero, giving the dense noise texture
      if (p.hatch) {
        datasets.push({
          type: 'bar',
          label: `${p.name} samples`,
          data: continuumPoints(p.cont, p.lines),
          yAxisID: p.id,
          backgroundColor: '#000',
          borderWidth: 0,
          barThickness: 2.6,
          grouped: false,
        });
      }
      datasets.push({
        type: 'line',
        label: p.name,
        data: buildSeries(p.cont, p.lines),
        yAxisID: p.id,
        borderColor: '#000',
        borderWidth: 1.2,
        pointRadius: 0,
        fill: false,
        tension: 0,
      });
    });
    datasets.push({
      type: 'line',
      label: 'AU Mic intervals',
      data: auMicBarRanges.flatMap(([a, b]) => [
        { x: a, y: auMicBarLevel },
        { x: b, y: auMicBarLevel },
        { x: b + 0.001, y: null },
      ]),
      yAxisID: 'yAuMic',
      borderColor: '#000',
      borderWidth: 10,
      borderCapStyle: 'butt',
      pointRadius: 0,
      spanGaps: false,
      fill: false,
    });

    const scales: any = {
      x: {
        type: 'linear',
        position: 'bottom',
        min: wavelengthMin,
        max: wavelengthMax,
        offset: false,
        grid: { display: false, offset: false },
        border: { display: false },
        ticks: {
          stepSize: 50,
          autoSkip: false,
          maxRotation: 0,
          padding: 8,
          color: INK,
          font: { family: SANS, size: 25 },
          callback: (v: number) => (wavelengthTicks.includes(v) ? String(v) : ''),
        },
        title: {
          display: true,
          text: 'WAVELENGTH (Å)',
          color: INK,
          font: { family: SANS, size: 39, lineHeight: 1.1 },
          padding: { top: 0, bottom: 0 },
        },
        afterFit: (s: any) => {
          s.height = 100;
        },
      },
    };
    panels.forEach((p, i) => {
      scales[p.id] = {
        type: 'linear',
        position: 'left',
        stack: 'flux',
        stackWeight: p.weight,
        weight: panels.length - i,
        min: p.min,
        max: p.max,
        grid: { display: false },
        border: { display: false },
        ticks: { display: false },
        afterFit: (s: any) => {
          s.width = 0;
        },
      };
    });

    const chart = new Chart(canvas, {
      type: 'line',
      data: { datasets },
      options: {
        responsive: false,
        animation: false,
        devicePixelRatio: 1,
        events: [],
        layout: { autoPadding: false, padding: { left: 193, right: 36, top: 20, bottom: 0 } },
        plugins: { legend: { display: false }, tooltip: { enabled: false } },
        scales,
      },
      plugins: [framePlugin],
    } as any);

    return () => chart.destroy();
  }, []);

  return (
    <div style={{ position: 'absolute', left: 0, top: 0, width: 1474, height: 1069, background: '#fff' }}>
      <canvas ref={canvasRef} width={1474} height={1069} style={{ display: 'block' }} />
    </div>
  );
}
